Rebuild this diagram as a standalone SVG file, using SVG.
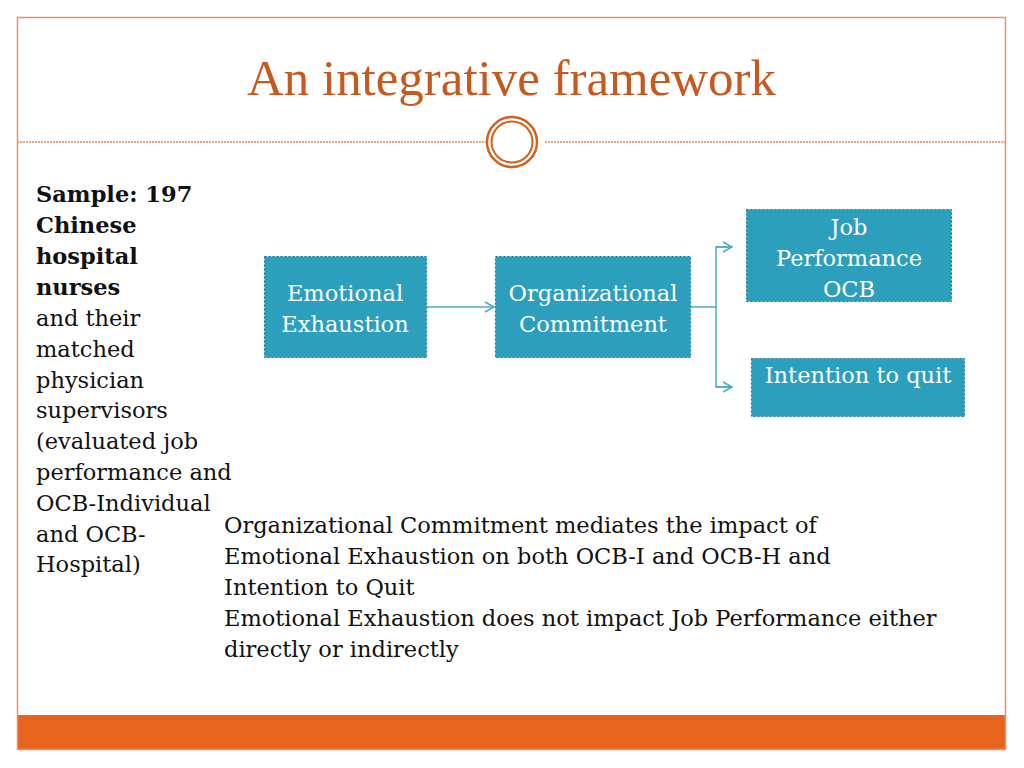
<svg xmlns="http://www.w3.org/2000/svg" width="1024" height="768" viewBox="0 0 1024 768">
<style>
.box{fill:#2C9FBD;stroke:#1E7893;stroke-width:1;stroke-dasharray:2 2}
.bt{font-family:"DejaVu Serif","Liberation Serif",serif;font-size:22.5px;fill:#fff;text-anchor:middle}
.tx{font-family:"DejaVu Serif","Liberation Serif",serif;font-size:22.5px;fill:#111}
.con{fill:none;stroke:#4AACC6;stroke-width:1.5}
</style>
<defs>
<marker id="arr" markerWidth="12" markerHeight="12" refX="10" refY="6" orient="auto" markerUnits="userSpaceOnUse">
<path d="M1,1 L10,6 L1,11" fill="none" stroke="#4AACC6" stroke-width="1.5"/>
</marker>
</defs>
<rect x="0" y="0" width="1024" height="768" fill="#fff"/>
<rect x="17" y="715" width="989" height="35" fill="#E8641C"/>
<rect x="17.5" y="17.5" width="988" height="732" fill="none" stroke="#E59566" stroke-width="1.5"/>
<line x1="17" y1="142" x2="486" y2="142" stroke="#E08A55" stroke-width="1.5" stroke-dasharray="2 1"/>
<line x1="545" y1="142" x2="1006" y2="142" stroke="#E08A55" stroke-width="1.5" stroke-dasharray="2 1"/>
<circle cx="512" cy="142" r="25" fill="#fff" stroke="#D0611F" stroke-width="2.5"/>
<circle cx="512" cy="142" r="20.5" fill="none" stroke="#D0611F" stroke-width="2"/>
<text x="247" y="95" font-family="Liberation Serif, serif" font-size="50" fill="#C8591E" textLength="529" lengthAdjust="spacingAndGlyphs">An integrative framework</text>

<g id="connectors">
<line class="con" x1="427" y1="307" x2="494" y2="307" marker-end="url(#arr)"/>
<polyline class="con" points="691,307 716,307"/>
<polyline class="con" points="732,247 716,247 716,387 732,387"/>
<line class="con" x1="716" y1="247" x2="732" y2="247" marker-end="url(#arr)"/>
<line class="con" x1="716" y1="387" x2="732" y2="387" marker-end="url(#arr)"/>
</g>

<g id="emotional-exhaustion">
<rect class="box" x="264.5" y="256.5" width="162" height="101"/>
<text class="bt" x="345" y="301">Emotional</text>
<text class="bt" x="345" y="332">Exhaustion</text>
</g>
<g id="organizational-commitment">
<rect class="box" x="495.5" y="256.5" width="195" height="101"/>
<text class="bt" x="593" y="301">Organizational</text>
<text class="bt" x="593" y="332">Commitment</text>
</g>
<g id="job-performance">
<rect class="box" x="746.5" y="209.5" width="205" height="92"/>
<text class="bt" x="849" y="235">Job</text>
<text class="bt" x="849" y="266">Performance</text>
<text class="bt" x="849" y="297">OCB</text>
</g>
<g id="intention-to-quit">
<rect class="box" x="751.5" y="358.5" width="213" height="58"/>
<text class="bt" x="858" y="383">Intention to quit</text>
</g>

<g id="sample-text" class="tx">
<text x="36" y="202" font-weight="bold">Sample: 197</text>
<text x="36" y="233" font-weight="bold">Chinese</text>
<text x="36" y="264" font-weight="bold">hospital</text>
<text x="36" y="295" font-weight="bold">nurses</text>
<text x="36" y="326">and their</text>
<text x="36" y="357">matched</text>
<text x="36" y="388">physician</text>
<text x="36" y="418">supervisors</text>
<text x="36" y="449">(evaluated job</text>
<text x="36" y="480">performance and</text>
<text x="36" y="511">OCB-Individual</text>
<text x="36" y="542">and OCB-</text>
<text x="36" y="572">Hospital)</text>
</g>
<g id="findings-text" class="tx">
<text x="224" y="533">Organizational Commitment mediates the impact of</text>
<text x="224" y="564">Emotional Exhaustion on both OCB-I and OCB-H and</text>
<text x="224" y="595">Intention to Quit</text>
<text x="224" y="626">Emotional Exhaustion does not impact Job Performance either</text>
<text x="224" y="657">directly or indirectly</text>
</g>
</svg>
